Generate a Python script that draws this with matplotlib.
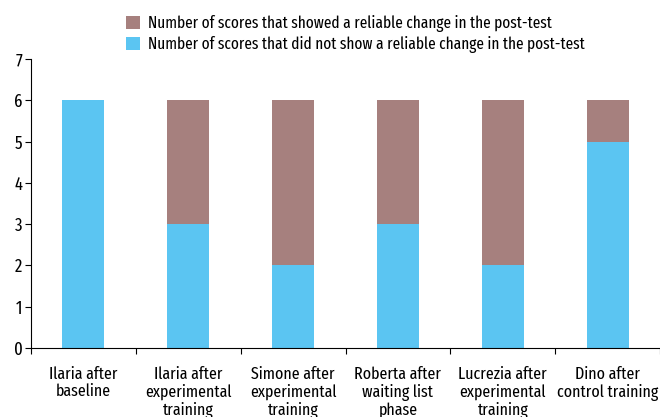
import matplotlib.pyplot as plt
import numpy as np

categories = ['Ilaria after\nbaseline', 'Ilaria after\nexperimental\ntraining',
              'Simone after\nexperimental\ntraining', 'Roberta after\nwaiting list\nphase',
              'Lucrezia after\nexperimental\ntraining', 'Dino after\ncontrol training']
not_changed = [6, 3, 2, 3, 2, 5]
changed = [0, 3, 4, 3, 4, 1]

plt.rcParams['font.family'] = ['Fira Sans Extra Condensed', 'DejaVu Sans']

fig = plt.figure(figsize=(6.6, 4.17), dpi=100)
ax = fig.add_axes([31/660, 1 - 348/417, 629/660, 289/417])

x = np.arange(len(categories))
b1 = ax.bar(x, not_changed, width=0.4, color='#5BC5F2',
            label='Number of scores that did not show a reliable change in the post-test')
b2 = ax.bar(x, changed, width=0.4, bottom=not_changed, color='#A6807E',
            label='Number of scores that showed a reliable change in the post-test')

ax.set_xlim(-0.5, len(categories) - 0.5)
ax.set_ylim(0, 7)
ax.set_yticks(range(8))
ax.tick_params(axis='y', labelsize=13, length=4, width=0.8, pad=2)
ax.set_xticks(x)
ax.set_xticklabels(categories, fontsize=12.5, linespacing=1.12)
ax.tick_params(axis='x', length=0, pad=13)
ax.set_xticks(np.arange(len(categories) + 1) - 0.5, minor=True)
ax.tick_params(axis='x', which='minor', length=4, width=0.8)
ax.spines['top'].set_visible(False)
ax.spines['right'].set_visible(False)

fig.legend([b2, b1], [b2.get_label(), b1.get_label()], loc='upper left',
           bbox_to_anchor=(126/660, 1 - 15/417), frameon=False, fontsize=12,
           handlelength=0.85, handleheight=0.85, handletextpad=0.45, labelspacing=0.25,
           borderaxespad=0, borderpad=0)

fig.savefig('out.png', dpi=100)
